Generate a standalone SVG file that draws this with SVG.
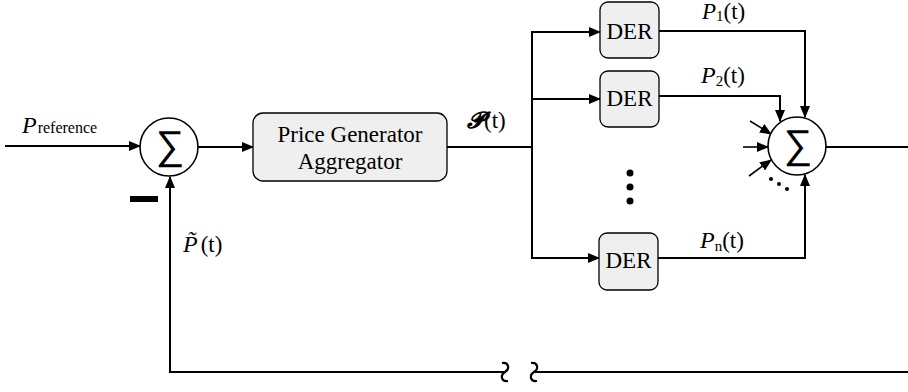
<svg xmlns="http://www.w3.org/2000/svg" width="908" height="392" viewBox="0 0 908 392">
<style>
.ln{fill:none;stroke:#000;stroke-width:2}
.box{fill:#efefef;stroke:#000;stroke-width:1.3}
.sum{fill:#fff;stroke:#000;stroke-width:1.6}
.t{font-family:'Liberation Serif','Times New Roman','DejaVu Serif',serif;font-size:23px;fill:#000}
.it{font-style:italic}
.sub{font-size:15px}
.sig{font-family:'Liberation Sans','DejaVu Sans',sans-serif;font-size:40px;fill:#000}
</style>
<defs>
<marker id="ah" markerWidth="12" markerHeight="10" refX="11" refY="5" orient="auto" markerUnits="userSpaceOnUse">
<path d="M0,0 L12,5 L0,10 Z" fill="#000"/>
</marker>
</defs>
<g id="connectors">
<line class="ln" x1="5" y1="146" x2="140" y2="146" marker-end="url(#ah)"/>
<line class="ln" x1="198" y1="147" x2="253" y2="147" marker-end="url(#ah)"/>
<line class="ln" x1="447" y1="147" x2="532" y2="147"/>
<polyline class="ln" points="532,32 532,258"/>
<line class="ln" x1="531" y1="32" x2="600" y2="32" marker-end="url(#ah)"/>
<line class="ln" x1="531" y1="99" x2="600" y2="99" marker-end="url(#ah)"/>
<line class="ln" x1="531" y1="258" x2="599" y2="258" marker-end="url(#ah)"/>
<polyline class="ln" points="659,31 805,31 805,117" marker-end="url(#ah)"/>
<polyline class="ln" points="659,96 780,96 780,121" marker-end="url(#ah)"/>
<polyline class="ln" points="658,258 805,258 805,175" marker-end="url(#ah)"/>
<line class="ln" x1="750" y1="121" x2="771" y2="134" marker-end="url(#ah)" style="stroke-width:1.6"/>
<line class="ln" x1="743" y1="147" x2="768" y2="147" marker-end="url(#ah)" style="stroke-width:1.6"/>
<line class="ln" x1="749" y1="176" x2="771" y2="160" marker-end="url(#ah)" style="stroke-width:1.6"/>
<line class="ln" x1="826" y1="147" x2="908" y2="147"/>
<polyline class="ln" points="504,372 170,372 170,177" marker-end="url(#ah)"/>
<line class="ln" x1="535" y1="372" x2="908" y2="372"/>
<path class="ln" d="M502,363 C509,362 510,369 505,372 C500,375 501,382 508,381" style="stroke-width:2.2"/>
<path class="ln" d="M531,363 C538,362 539,369 534,372 C529,375 530,382 537,381" style="stroke-width:2.2"/>
</g>
<g id="sum1">
<circle class="sum" cx="169" cy="147" r="29"/>
<text class="sig" x="170" y="159" text-anchor="middle">∑</text>
</g>
<g id="minus"><rect x="130" y="196" width="28" height="6" fill="#000"/></g>
<g id="pref">
<text class="t" x="22" y="133"><tspan class="it" font-size="24">P</tspan><tspan font-size="16" dx="1">reference</tspan></text>
</g>
<g id="ptilde">
<text class="t" x="183" y="252"><tspan class="it" font-size="24">P̃</tspan><tspan dx="3">(t)</tspan></text>
</g>
<g id="aggregator">
<rect class="box" x="253" y="113" width="194" height="68" rx="10"/>
<text class="t" x="350" y="142" text-anchor="middle">Price Generator</text>
<text class="t" x="350" y="169" text-anchor="middle">Aggregator</text>
</g>
<g id="plabel"><text class="t" x="467" y="128"><tspan font-weight="bold" font-style="italic">𝓟</tspan>(t)</text></g>
<g id="der1">
<rect class="box" x="600" y="2" width="59" height="56" rx="8"/>
<text class="t" x="629.5" y="39" text-anchor="middle" font-size="22">DER</text>
</g>
<g id="der2">
<rect class="box" x="600" y="71" width="59" height="56" rx="8"/>
<text class="t" x="629.5" y="106" text-anchor="middle" font-size="22">DER</text>
</g>
<g id="der3">
<rect class="box" x="599" y="233" width="59" height="57" rx="8"/>
<text class="t" x="628.5" y="268" text-anchor="middle" font-size="22">DER</text>
</g>
<g id="vdots">
<circle cx="630" cy="173" r="3.5"/><circle cx="630" cy="187" r="3.5"/><circle cx="630" cy="201" r="3.5"/>
</g>
<g id="labels">
<text class="t" x="702" y="19" font-size="22"><tspan class="it" font-size="23">P</tspan><tspan class="sub" dy="2">1</tspan><tspan dy="-2">(t)</tspan></text>
<text class="t" x="701" y="83"><tspan class="it" font-size="24">P</tspan><tspan class="sub" dy="3">2</tspan><tspan dy="-3">(t)</tspan></text>
<text class="t" x="700" y="248"><tspan class="it" font-size="24">P</tspan><tspan class="sub" dy="3">n</tspan><tspan dy="-3">(t)</tspan></text>
</g>
<g id="sum2">
<circle class="sum" cx="797" cy="146" r="29"/>
<text class="sig" x="798" y="158" text-anchor="middle">∑</text>
</g>
<g id="sdots">
<circle cx="771" cy="179" r="2"/><circle cx="779" cy="184" r="2"/><circle cx="787" cy="189" r="2"/>
</g>
</svg>
